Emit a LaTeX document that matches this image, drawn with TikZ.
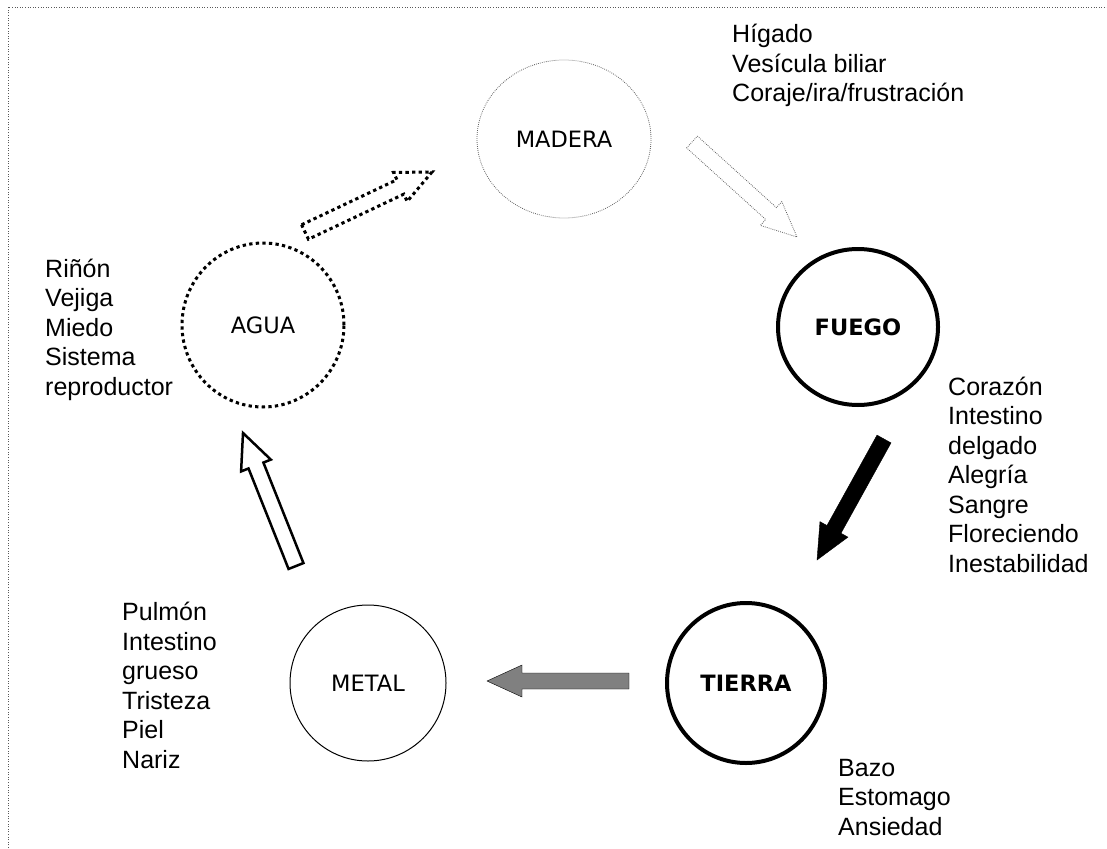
\documentclass[tikz,border=0pt]{standalone}
\usepackage{fontspec}
\setmainfont{Liberation Sans}
\newfontfamily\elemfont{DejaVu Sans}
\usetikzlibrary{calc,shapes.geometric}

% block arrow: #1 style, #2 tail, #3 tip
\newcommand{\blockarrow}[3]{%
  \coordinate (ba-h) at ($(#3)!\hl!(#2)$);
  \draw[#1] ($(#2)!\sw!90:(#3)$) -- ($(ba-h)!\sw!90:(#3)$) -- ($(ba-h)!\hw!90:(#3)$)
    -- (#3) -- ($(ba-h)!\hw!-90:(#3)$) -- ($(ba-h)!\sw!-90:(#3)$)
    -- ($(#2)!\sw!-90:(#3)$) -- cycle;
}

\begin{document}
\begin{tikzpicture}[x=1pt,y=-1pt,
  elem/.style={ellipse, inner sep=0pt, font=\elemfont\fontsize{22.5}{27}\selectfont},
  organs/.style={anchor=base west, align=left, inner sep=0pt, font=\fontsize{25}{29.5}\selectfont},
  dotthick/.style={line width=3pt, dash pattern=on 3.3pt off 3.3pt},
  dotthin/.style={draw=gray!75!black, line width=0.8pt, dash pattern=on 0.8pt off 1.2pt},
  frame/.style={draw=gray!70!black, line width=0.8pt, dash pattern=on 1pt off 1.6pt},
]
\useasboundingbox (0,0) rectangle (1107,848);
\def\sw{8pt}\def\hw{16pt}\def\hl{35pt}

% page frame
\draw[frame] (8,848) -- (8,7) -- (1107,7);

% the five elements
\node[elem, dotthin, minimum width=174pt, minimum height=158pt] (madera) at (564,139) {MADERA};
\node[elem, draw, line width=4pt, minimum width=160pt, minimum height=156pt] (fuego) at (858,327) {\bfseries FUEGO};
\node[elem, draw, line width=4pt, minimum width=158pt, minimum height=160pt] (tierra) at (746,683) {\bfseries TIERRA};
\node[elem, draw, line width=1pt, minimum width=156pt, minimum height=156pt] (metal) at (368,683) {METAL};
\node[elem, draw, dotthick, minimum width=162pt, minimum height=164pt] (agua) at (263,325) {AGUA};

% organs and emotions (anchored at the baseline of the last line)
\node[organs] (madera-txt) at (732,102) {Hígado\\Vesícula biliar\\Coraje/ira/frustración};
\node[organs] (fuego-txt) at (948,572) {Corazón\\Intestino\\delgado\\Alegría\\Sangre\\Floreciendo\\Inestabilidad};
\node[organs] (tierra-txt) at (838,835) {Bazo\\Estomago\\Ansiedad};
\node[organs] (metal-txt) at (122,768) {Pulmón\\Intestino\\grueso\\Tristeza\\Piel\\Nariz};
\node[organs] (agua-txt) at (45,395) {Riñón\\Vejiga\\Miedo\\Sistema\\reproductor};

% generating cycle
\coordinate (am-t) at (305,232); \coordinate (am-h) at (432,172);
\coordinate (mf-t) at (692,142); \coordinate (mf-h) at (797,237);
\coordinate (ft-t) at (884,439); \coordinate (ft-h) at (817,560);
\coordinate (tm-t) at (629,681); \coordinate (tm-h) at (487,681);
\coordinate (ma-t) at (296,566); \coordinate (ma-h) at (243,433);
\blockarrow{draw, dotthick}{am-t}{am-h}
\blockarrow{dotthin}{mf-t}{mf-h}
\blockarrow{fill=black}{ft-t}{ft-h}
\blockarrow{fill=gray}{tm-t}{tm-h}
\blockarrow{draw, line width=2.5pt, line join=miter, fill=white}{ma-t}{ma-h}
\end{tikzpicture}
\end{document}
